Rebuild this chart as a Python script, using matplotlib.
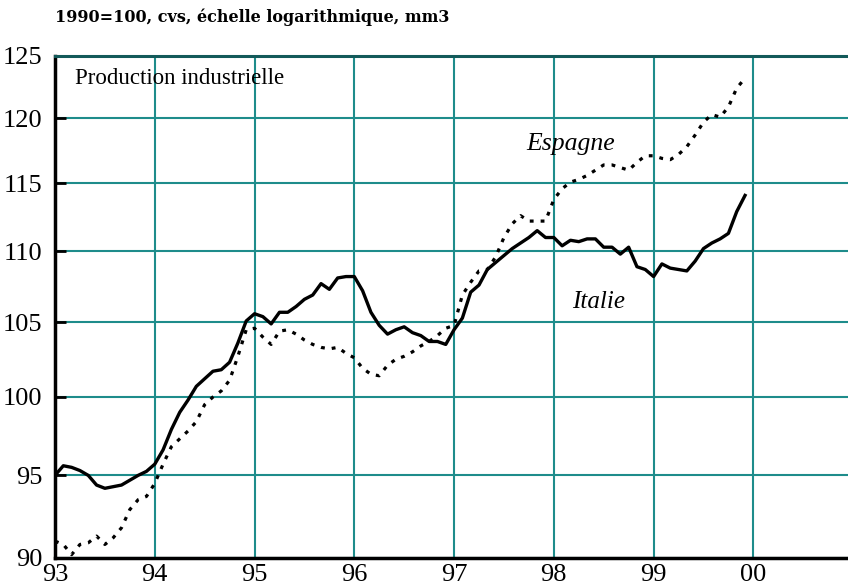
import numpy as np
import matplotlib.pyplot as plt
from matplotlib.ticker import FixedLocator, NullLocator

# monthly indices, Jan 1993 .. Nov 1999
START_YEAR = 93
italie = [95.0, 95.6, 95.5, 95.3, 95.0, 94.4, 94.2, 94.3, 94.4, 94.7, 95.0, 95.25,
          95.7, 96.6, 97.9, 99.0, 99.8, 100.7, 101.2, 101.7, 101.8, 102.3, 103.6, 105.1,
          105.6, 105.4, 104.9, 105.7, 105.7, 106.1, 106.6, 106.9, 107.7, 107.3, 108.1, 108.2,
          108.2, 107.2, 105.7, 104.8, 104.2, 104.5, 104.7, 104.3, 104.1, 103.7, 103.7, 103.5,
          104.5, 105.3, 107.1, 107.6, 108.7, 109.2, 109.7, 110.2, 110.6, 111.0, 111.5, 111.0,
          111.0, 110.4, 110.8, 110.7, 110.9, 110.9, 110.3, 110.3, 109.8, 110.3, 108.9, 108.7,
          108.2, 109.1, 108.8, 108.7, 108.6, 109.3, 110.2, 110.6, 110.9, 111.3, 112.9, 114.1]
espagne = [91.0, 90.8, 90.2, 90.8, 90.9, 91.3, 90.8, 91.2, 91.8, 92.9, 93.5, 93.7,
           94.5, 95.7, 96.8, 97.3, 97.8, 98.4, 99.5, 100.0, 100.4, 101.1, 102.7, 104.5,
           104.6, 104.0, 103.5, 104.4, 104.5, 104.2, 103.8, 103.5, 103.3, 103.2, 103.3, 102.9,
           102.6, 101.9, 101.5, 101.4, 102.1, 102.5, 102.7, 103.0, 103.4, 103.7, 104.1, 104.6,
           104.8, 106.9, 107.8, 108.6, 108.7, 109.6, 111.0, 112.0, 112.6, 112.2, 112.2, 112.2,
           113.8, 114.6, 115.1, 115.3, 115.6, 116.0, 116.4, 116.4, 116.2, 116.0, 116.6, 117.1,
           117.1, 116.9, 116.8, 117.2, 117.8, 118.7, 119.7, 120.3, 120.1, 120.9, 122.4, 123.2]
year_ticks = [93, 94, 95, 96, 97, 98, 99, 100]
year_labels = ["93", "94", "95", "96", "97", "98", "99", "00"]
y_ticks = [90, 95, 100, 105, 110, 115, 120, 125]

GRID = "#1e8c8b"
SERIF = "Liberation Serif"

x = START_YEAR + np.arange(len(italie)) / 12.0

fig = plt.figure(figsize=(8.48, 5.87), dpi=100)
ax = fig.add_axes([55 / 848, 1 - 558 / 587, 1.0, (558 - 56) / 587])

ax.plot(x, espagne, color="black", linewidth=2.3, linestyle=(0, (1.2, 2.2)), zorder=3)
ax.plot(x, italie, color="black", linewidth=2.4, zorder=4)

ax.set_yscale("log")
ax.set_ylim(90, 125)
ax.set_xlim(93, 101.5)
ax.yaxis.set_major_locator(FixedLocator(y_ticks))
ax.yaxis.set_minor_locator(NullLocator())
ax.set_yticklabels([str(v) for v in y_ticks])
ax.set_xticks(year_ticks)
ax.set_xticklabels(year_labels)

ax.grid(True, color=GRID, linewidth=1.5)
ax.set_axisbelow(True)

for s in ["left", "bottom"]:
    ax.spines[s].set_color("black")
    ax.spines[s].set_linewidth(2.5)
ax.spines["top"].set_color("#135a5a")
ax.spines["top"].set_linewidth(2.2)
ax.spines["right"].set_visible(False)

ax.tick_params(axis="y", direction="in", length=8, width=2, color="black",
               labelsize=19, pad=9)
ax.tick_params(axis="x", length=0, labelsize=19, pad=4)
for lab in ax.get_xticklabels() + ax.get_yticklabels():
    lab.set_family(SERIF)

ax.text(93.2, 123.2, "Production industrielle", family=SERIF, fontsize=16.5,
        va="center", ha="left")
ax.text(97.72, 118.0, "Espagne", family=SERIF, style="italic", fontsize=18.5,
        va="center", ha="left")
ax.text(98.18, 106.4, "Italie", family=SERIF, style="italic", fontsize=18,
        va="center", ha="left")

fig.text(55 / 848, 1 - 17 / 587, "1990=100, cvs, échelle logarithmique, mm3",
         family="DejaVu Serif", fontsize=11.5, fontweight="bold", va="center", ha="left")

fig.savefig("out.png", dpi=100)
